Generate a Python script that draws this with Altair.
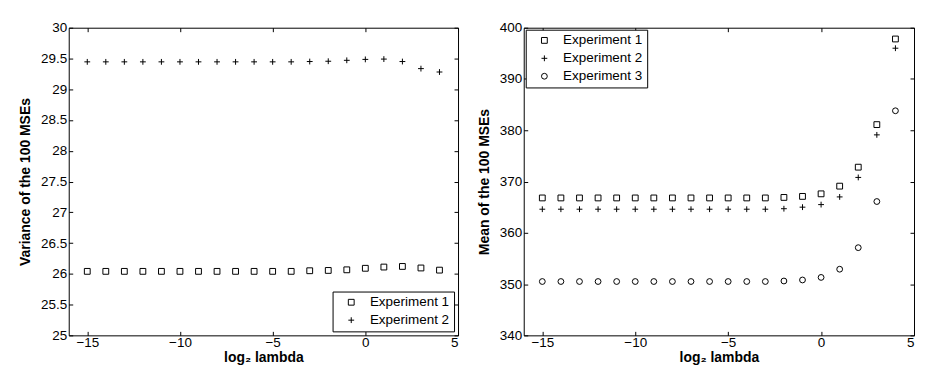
import altair as alt
import pandas as pd

# ---------------- data ----------------
lam = [-15, -14, -13, -12, -11, -10, -9, -8, -7, -6, -5, -4, -3, -2, -1, 0, 1, 2, 3, 4]

var_exp1 = [26.04, 26.04, 26.04, 26.04, 26.04, 26.04, 26.04, 26.04, 26.04, 26.04,
            26.04, 26.04, 26.05, 26.055, 26.065, 26.09, 26.11, 26.12, 26.095, 26.06]
var_exp2 = [29.445, 29.445, 29.445, 29.445, 29.445, 29.445, 29.445, 29.445, 29.445, 29.445,
            29.445, 29.445, 29.45, 29.455, 29.47, 29.485, 29.49, 29.45, 29.335, 29.28]

mean_exp1 = [366.8, 366.8, 366.8, 366.8, 366.8, 366.8, 366.8, 366.8, 366.8, 366.8,
             366.8, 366.8, 366.8, 366.9, 367.1, 367.6, 369.1, 372.8, 381.1, 397.8]
mean_exp2 = [364.6, 364.6, 364.6, 364.6, 364.6, 364.6, 364.6, 364.6, 364.6, 364.6,
             364.6, 364.6, 364.6, 364.7, 365.0, 365.5, 367.0, 370.8, 379.1, 396.0]
mean_exp3 = [350.5, 350.5, 350.5, 350.5, 350.5, 350.5, 350.5, 350.5, 350.5, 350.5,
             350.5, 350.5, 350.5, 350.6, 350.8, 351.3, 352.9, 357.1, 366.1, 383.8]

series_names = ["Experiment 1", "Experiment 2", "Experiment 3"]
x_ticks = [-15, -10, -5, 0, 5]
var_ticks = [25, 25.5, 26, 26.5, 27, 27.5, 28, 28.5, 29, 29.5, 30]
mean_ticks = [340, 350, 360, 370, 380, 390, 400]

x_title = "log\u2082 lambda"
var_title = "Variance of the 100 MSEs"
mean_title = "Mean of the 100 MSEs"

# ---------------- tables ----------------
def long_table(columns):
    rows = []
    for name, vals in columns:
        for xv, yv in zip(lam, vals):
            rows.append({"lam": xv, "val": yv, "series": name})
    return pd.DataFrame(rows)

var_df = long_table([(series_names[0], var_exp1), (series_names[1], var_exp2)])
mean_df = long_table([(series_names[0], mean_exp1), (series_names[1], mean_exp2),
                      (series_names[2], mean_exp3)])

FONT = "Liberation Sans"
PLUS = "M-1,0H1M0,-1V1"
shape_range = ["square", PLUS, "circle"]

TICK = 4


def panel(df, ydomain, yticks, ytitle, n_series, legend_orient, legend_offset,
          width, height, ytitle_pad):
    xscale = alt.Scale(domain=[-16, 5], nice=False, zero=False)
    yscale = alt.Scale(domain=ydomain, nice=False, zero=False)
    common_axis = dict(grid=False, domain=False, tickSize=TICK, offset=-TICK,
                       tickColor="black", tickWidth=1,
                       labelFont=FONT, labelFontSize=13.5, labelColor="black",
                       titleFont=FONT, titleFontSize=14, titleFontWeight="bold",
                       titleColor="black", format="~r")
    pts = alt.Chart(df).mark_point(filled=False, color="black", strokeWidth=1,
                                   size=34, opacity=1).encode(
        x=alt.X("lam:Q", scale=xscale,
                axis=alt.Axis(orient="bottom", values=x_ticks, title=x_title,
                              labelPadding=0, titlePadding=2, **common_axis)),
        y=alt.Y("val:Q", scale=yscale,
                axis=alt.Axis(orient="left", values=yticks, title=ytitle,
                              labelPadding=2, titlePadding=ytitle_pad, **common_axis)),
        shape=alt.Shape("series:N",
                        scale=alt.Scale(domain=series_names[:n_series],
                                        range=shape_range[:n_series]),
                        legend=alt.Legend(title=None, orient=legend_orient,
                                          offset=legend_offset,
                                          strokeColor="black", fillColor="white",
                                          padding=4, rowPadding=3,
                                          labelFont=FONT, labelFontSize=13.5,
                                          labelColor="black", labelOffset=12,
                                          symbolOffset=8, symbolSize=34,
                                          symbolStrokeColor="black",
                                          symbolStrokeWidth=1, cornerRadius=0)),
    )
    ghost = alt.Chart(df).mark_point(opacity=0).encode(
        x=alt.X("lam:Q", scale=xscale,
                axis=alt.Axis(orient="top", values=x_ticks, title=None,
                              labels=False, **common_axis)),
        y=alt.Y("val:Q", scale=yscale,
                axis=alt.Axis(orient="right", values=yticks, title=None,
                              labels=False, **common_axis)),
    )
    return alt.layer(pts, ghost).resolve_axis(x="independent", y="independent").properties(
        width=width, height=height)


left = panel(var_df, [25, 30], var_ticks, var_title, 2, "bottom-right", 4, 391, 309, 8)
right = panel(mean_df, [340, 400], mean_ticks, mean_title, 3, "top-left", 2, 392, 309, 8)

chart = alt.hconcat(left, right, spacing=17).resolve_scale(shape="independent").properties(
    background="white", padding={"left": 10, "top": 11, "right": 2, "bottom": 2}
).configure_view(stroke="black", strokeWidth=1)

chart.save("out.html", embed_options={"renderer": "svg", "actions": False})
